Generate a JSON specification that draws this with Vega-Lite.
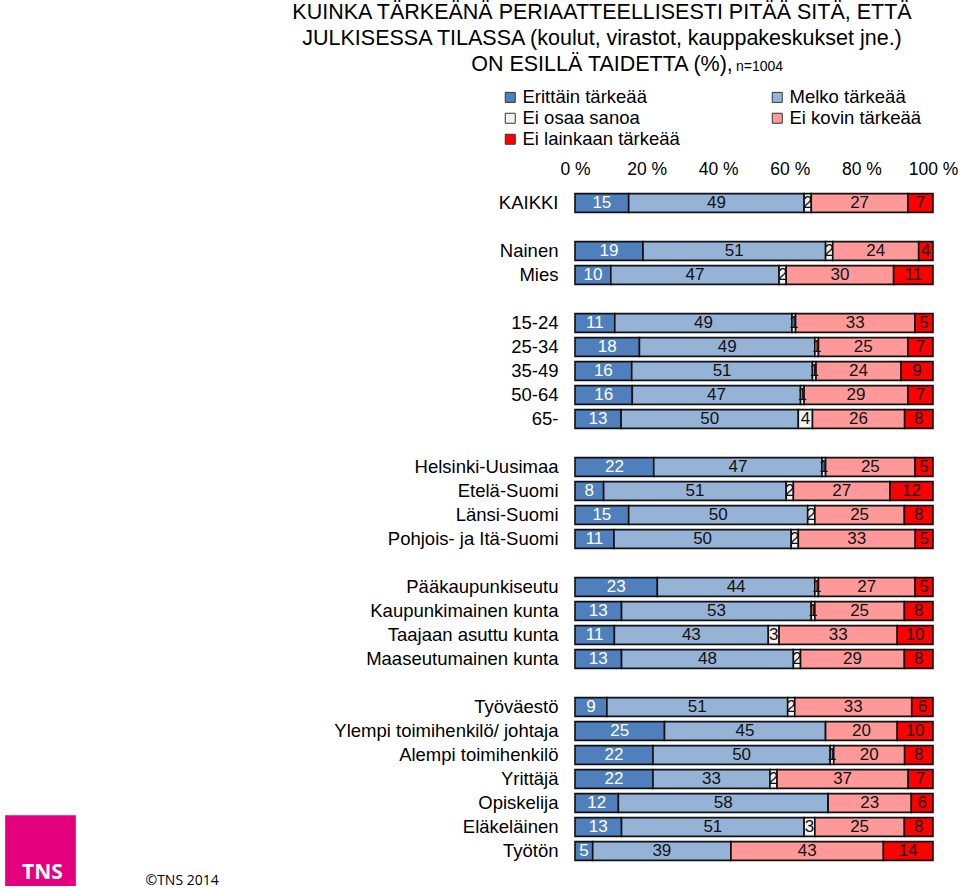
{
  "$schema": "https://vega.github.io/schema/vega-lite/v6.json",
  "width": 358,
  "height": 672,
  "autosize": {"type": "none"},
  "padding": {"left": 575, "top": 191, "right": 27, "bottom": 25},
  "background": "white",
  "config": {
    "font": "Liberation Sans",
    "view": {"fill": "#dcdcdc", "stroke": null}
  },
  "title": {
    "text": [
      "KUINKA TÄRKEÄNÄ PERIAATTEELLISESTI PITÄÄ SITÄ, ETTÄ",
      "JULKISESSA TILASSA  (koulut, virastot, kauppakeskukset jne.)",
      "ON ESILLÄ TAIDETTA (%),"
    ],
    "font": "Liberation Sans",
    "fontSize": 21.5,
    "fontWeight": "normal",
    "lineHeight": 26,
    "color": "black",
    "anchor": "middle",
    "dx": -152,
    "offset": -16
  },
  "datasets": {
    "cats": [
      {"c": "Erittäin tärkeää", "k": 1},
      {"c": "Melko tärkeää", "k": 2},
      {"c": "Ei osaa sanoa", "k": 3},
      {"c": "Ei kovin tärkeää", "k": 4},
      {"c": "Ei lainkaan tärkeää", "k": 5}
    ]
  },
  "data": {
    "values": [
      {"g": "KAIKKI", "Erittäin tärkeää": 15, "Melko tärkeää": 49, "Ei osaa sanoa": 2, "Ei kovin tärkeää": 27, "Ei lainkaan tärkeää": 7},
      {"g": "Nainen", "Erittäin tärkeää": 19, "Melko tärkeää": 51, "Ei osaa sanoa": 2, "Ei kovin tärkeää": 24, "Ei lainkaan tärkeää": 4},
      {"g": "Mies", "Erittäin tärkeää": 10, "Melko tärkeää": 47, "Ei osaa sanoa": 2, "Ei kovin tärkeää": 30, "Ei lainkaan tärkeää": 11},
      {"g": "15-24", "Erittäin tärkeää": 11, "Melko tärkeää": 49, "Ei osaa sanoa": 1, "Ei kovin tärkeää": 33, "Ei lainkaan tärkeää": 5},
      {"g": "25-34", "Erittäin tärkeää": 18, "Melko tärkeää": 49, "Ei osaa sanoa": 1, "Ei kovin tärkeää": 25, "Ei lainkaan tärkeää": 7},
      {"g": "35-49", "Erittäin tärkeää": 16, "Melko tärkeää": 51, "Ei osaa sanoa": 1, "Ei kovin tärkeää": 24, "Ei lainkaan tärkeää": 9},
      {"g": "50-64", "Erittäin tärkeää": 16, "Melko tärkeää": 47, "Ei osaa sanoa": 1, "Ei kovin tärkeää": 29, "Ei lainkaan tärkeää": 7},
      {"g": "65-", "Erittäin tärkeää": 13, "Melko tärkeää": 50, "Ei osaa sanoa": 4, "Ei kovin tärkeää": 26, "Ei lainkaan tärkeää": 8},
      {"g": "Helsinki-Uusimaa", "Erittäin tärkeää": 22, "Melko tärkeää": 47, "Ei osaa sanoa": 1, "Ei kovin tärkeää": 25, "Ei lainkaan tärkeää": 5},
      {"g": "Etelä-Suomi", "Erittäin tärkeää": 8, "Melko tärkeää": 51, "Ei osaa sanoa": 2, "Ei kovin tärkeää": 27, "Ei lainkaan tärkeää": 12},
      {"g": "Länsi-Suomi", "Erittäin tärkeää": 15, "Melko tärkeää": 50, "Ei osaa sanoa": 2, "Ei kovin tärkeää": 25, "Ei lainkaan tärkeää": 8},
      {"g": "Pohjois- ja Itä-Suomi", "Erittäin tärkeää": 11, "Melko tärkeää": 50, "Ei osaa sanoa": 2, "Ei kovin tärkeää": 33, "Ei lainkaan tärkeää": 5},
      {"g": "Pääkaupunkiseutu", "Erittäin tärkeää": 23, "Melko tärkeää": 44, "Ei osaa sanoa": 1, "Ei kovin tärkeää": 27, "Ei lainkaan tärkeää": 5},
      {"g": "Kaupunkimainen kunta", "Erittäin tärkeää": 13, "Melko tärkeää": 53, "Ei osaa sanoa": 1, "Ei kovin tärkeää": 25, "Ei lainkaan tärkeää": 8},
      {"g": "Taajaan asuttu kunta", "Erittäin tärkeää": 11, "Melko tärkeää": 43, "Ei osaa sanoa": 3, "Ei kovin tärkeää": 33, "Ei lainkaan tärkeää": 10},
      {"g": "Maaseutumainen kunta", "Erittäin tärkeää": 13, "Melko tärkeää": 48, "Ei osaa sanoa": 2, "Ei kovin tärkeää": 29, "Ei lainkaan tärkeää": 8},
      {"g": "Työväestö", "Erittäin tärkeää": 9, "Melko tärkeää": 51, "Ei osaa sanoa": 2, "Ei kovin tärkeää": 33, "Ei lainkaan tärkeää": 6},
      {"g": "Ylempi toimihenkilö/ johtaja", "Erittäin tärkeää": 25, "Melko tärkeää": 45, "Ei osaa sanoa": 0, "Ei kovin tärkeää": 20, "Ei lainkaan tärkeää": 10},
      {"g": "Alempi toimihenkilö", "Erittäin tärkeää": 22, "Melko tärkeää": 50, "Ei osaa sanoa": 1, "Ei kovin tärkeää": 20, "Ei lainkaan tärkeää": 8},
      {"g": "Yrittäjä", "Erittäin tärkeää": 22, "Melko tärkeää": 33, "Ei osaa sanoa": 2, "Ei kovin tärkeää": 37, "Ei lainkaan tärkeää": 7},
      {"g": "Opiskelija", "Erittäin tärkeää": 12, "Melko tärkeää": 58, "Ei osaa sanoa": 0, "Ei kovin tärkeää": 23, "Ei lainkaan tärkeää": 6},
      {"g": "Eläkeläinen", "Erittäin tärkeää": 13, "Melko tärkeää": 51, "Ei osaa sanoa": 3, "Ei kovin tärkeää": 25, "Ei lainkaan tärkeää": 8},
      {"g": "Työtön", "Erittäin tärkeää": 5, "Melko tärkeää": 39, "Ei osaa sanoa": 0, "Ei kovin tärkeää": 43, "Ei lainkaan tärkeää": 14}
    ]
  },
  "transform": [
    {"fold": ["Erittäin tärkeää", "Melko tärkeää", "Ei osaa sanoa", "Ei kovin tärkeää", "Ei lainkaan tärkeää"], "as": ["c", "v"]},
    {"lookup": "c", "from": {"data": {"name": "cats"}, "key": "c", "fields": ["k"]}}
  ],
  "layer": [
    {
      "mark": {"type": "bar", "stroke": "#111111", "strokeWidth": 1.6},
      "encoding": {
        "y": {
          "field": "g", "type": "nominal",
          "scale": {
            "domain": ["KAIKKI", " ", "Nainen", "Mies", "  ", "15-24", "25-34", "35-49", "50-64", "65-", "   ", "Helsinki-Uusimaa", "Etelä-Suomi", "Länsi-Suomi", "Pohjois- ja Itä-Suomi", "    ", "Pääkaupunkiseutu", "Kaupunkimainen kunta", "Taajaan asuttu kunta", "Maaseutumainen kunta", "     ", "Työväestö", "Ylempi toimihenkilö/ johtaja", "Alempi toimihenkilö", "Yrittäjä", "Opiskelija", "Eläkeläinen", "Työtön"],
            "paddingInner": 0.22,
            "paddingOuter": 0.11
          },
          "axis": {
            "title": "©TNS 2014",
            "titleAngle": 0,
            "titleX": -430,
            "titleY": 693,
            "titleAlign": "left",
            "titleBaseline": "alphabetic",
            "titleFont": "Open Sans",
            "titleFontSize": 14,
            "titleFontWeight": "normal",
            "titleColor": "black",
            "labelFontSize": 18.5,
            "labelColor": "black",
            "labelPadding": 17,
            "labelLimit": 400,
            "ticks": false,
            "domain": false,
            "grid": false
          }
        },
        "x": {
          "field": "v", "type": "quantitative", "stack": "normalize",
          "scale": {"domain": [0, 1], "nice": false},
          "axis": {
            "orient": "top",
            "title": "n=1004",
            "titleAngle": 0,
            "titleX": 184,
            "titleY": -121,
            "titleAlign": "center",
            "titleBaseline": "alphabetic",
            "titleFont": "Liberation Sans",
            "titleFontSize": 14,
            "titleFontWeight": "normal",
            "titleColor": "black",
            "values": [0, 0.2, 0.4, 0.6, 0.8, 1],
            "labelExpr": "format(datum.value * 100, 'd') + ' %'",
            "labelFontSize": 17.5,
            "labelColor": "black",
            "labelPadding": 13,
            "labelFlush": false,
            "labelBound": false,
            "ticks": false,
            "domain": false,
            "grid": false
          }
        },
        "order": {"field": "k", "type": "quantitative"},
        "color": {
          "field": "c", "type": "nominal",
          "sort": ["Erittäin tärkeää", "Melko tärkeää", "Ei osaa sanoa", "Ei kovin tärkeää", "Ei lainkaan tärkeää"],
          "scale": {
            "domain": ["Erittäin tärkeää", "Melko tärkeää", "Ei osaa sanoa", "Ei kovin tärkeää", "Ei lainkaan tärkeää"],
            "range": ["#4f7fbd", "#95b3d7", "#f2f2f2", "#ff9999", "#ff0000"]
          },
          "legend": {
            "title": null,
            "orient": "none",
            "direction": "horizontal",
            "legendX": -74,
            "legendY": -103,
            "columns": 2,
            "columnPadding": 88,
            "rowPadding": 2,
            "padding": 0,
            "symbolType": "square",
            "symbolSize": 100,
            "symbolStrokeColor": "#333333",
            "symbolStrokeWidth": 1,
            "labelFontSize": 18.5,
            "labelColor": "black",
            "labelOffset": 3,
            "labelLimit": 300
          }
        }
      }
    },
    {
      "transform": [{"filter": "datum.v > 0"}],
      "mark": {"type": "text", "fontSize": 17, "baseline": "middle", "align": "center"},
      "encoding": {
        "y": {"field": "g", "type": "nominal"},
        "x": {"field": "v", "type": "quantitative", "stack": "normalize", "bandPosition": 0.5},
        "order": {"field": "k", "type": "quantitative"},
        "text": {"field": "v", "type": "quantitative"},
        "color": {
          "field": "c", "type": "nominal",
          "sort": ["Erittäin tärkeää", "Melko tärkeää", "Ei osaa sanoa", "Ei kovin tärkeää", "Ei lainkaan tärkeää"],
          "scale": {
            "domain": ["Erittäin tärkeää", "Melko tärkeää", "Ei osaa sanoa", "Ei kovin tärkeää", "Ei lainkaan tärkeää"],
            "range": ["#ffffff", "#111111", "#111111", "#111111", "#111111"]
          },
          "legend": null
        }
      }
    },
    {
      "data": {"values": [{"brand": "TNS"}]},
      "mark": {"type": "point", "filled": true, "opacity": 0, "color": "#e5007d"},
      "encoding": {
        "shape": {
          "field": "brand", "type": "nominal",
          "scale": {"range": ["M-1,-1.63H1V0.37H-1Z"]},
          "legend": {
            "title": null,
            "orient": "none",
            "legendX": -570,
            "legendY": 646.5,
            "padding": 0,
            "symbolSize": 5000,
            "symbolFillColor": "#e5007d",
            "symbolStrokeWidth": 0,
            "symbolOpacity": 1,
            "labelColor": "white",
            "labelFont": "Open Sans",
            "labelFontWeight": "bold",
            "labelFontSize": 21,
            "labelOffset": -54
          }
        }
      }
    }
  ],
  "resolve": {"scale": {"color": "independent"}}
}
